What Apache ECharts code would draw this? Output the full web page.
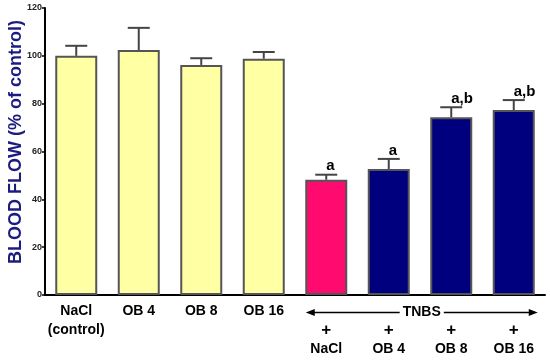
<!DOCTYPE html>
<html>
<head>
<meta charset="utf-8">
<script src="https://cdn.jsdelivr.net/npm/echarts@6/dist/echarts.min.js"></script>
<style>html,body{margin:0;padding:0;background:#fff}#c{width:550px;height:360px}</style>
</head>
<body>
<div id="c"></div>
<script>
var categories = ['NaCl\n(control)', 'OB 4', 'OB 8', 'OB 16', '\n{p|+}\nNaCl', '\n{p|+}\nOB 4', '\n{p|+}\nOB 8', '\n{p|+}\nOB 16'];
var means = [100, 102.4, 96.2, 98.8, 48.2, 52.7, 74.3, 77.3];
var errors = [4.2, 9.3, 2.8, 2.8, 2.1, 4.2, 4.2, 4.2];
var letters = ['', '', '', '', 'a', 'a', 'a,b', 'a,b'];
var groups = ['control', 'control', 'control', 'control', 'tnbsNaCl', 'tnbsOB', 'tnbsOB', 'tnbsOB'];
var yTicks = [0, 20, 40, 60, 80, 100, 120];
var groupLabel = 'TNBS';
var yTitle = 'BLOOD FLOW (% of control)';

var palette = {control: '#FFFFA4', tnbsNaCl: '#FF0A6E', tnbsOB: '#00007F'};
var FONT = '"Liberation Sans", Arial, sans-serif';

var chart = echarts.init(document.getElementById('c'), null, {renderer: 'canvas'});

var option = {
  animation: false,
  backgroundColor: '#fff',
  grid: {left: 45, right: 5, top: 8, bottom: 65, containLabel: false},
  xAxis: {
    type: 'category',
    data: categories,
    axisLine: {lineStyle: {color: '#000', width: 2}},
    axisTick: {show: false},
    axisLabel: {
      interval: 0, margin: 7,
      fontFamily: FONT, fontWeight: 'bold', fontSize: 14, lineHeight: 19, color: '#000',
      rich: {p: {fontFamily: FONT, fontWeight: 'bold', fontSize: 17, lineHeight: 19, color: '#000'}}
    }
  },
  yAxis: {
    type: 'value', min: yTicks[0], max: yTicks[yTicks.length - 1], interval: 20,
    axisLine: {show: true, lineStyle: {color: '#000', width: 2}},
    axisTick: {show: true, length: 3, lineStyle: {color: '#000', width: 1.5}},
    axisLabel: {margin: 3, fontFamily: FONT, fontWeight: 'bold', fontSize: 9, color: '#222'},
    splitLine: {show: false}
  },
  series: [
    {
      type: 'bar',
      barWidth: 42,
      data: means.map(function (v, i) {
        return {value: v, itemStyle: {color: palette[groups[i]]}};
      }),
      itemStyle: {borderColor: '#555', borderWidth: 2},
      z: 2
    },
    {
      type: 'custom',
      z: 3,
      data: means.map(function (v, i) { return [i, v, v + errors[i], letters[i]]; }),
      renderItem: function (params, api) {
        var base = api.coord([api.value(0), api.value(1)]);
        var top = api.coord([api.value(0), api.value(2)]);
        var half = 11;
        var style = {stroke: '#444', lineWidth: 2};
        var children = [
          {type: 'line', shape: {x1: base[0], y1: base[1], x2: top[0], y2: top[1]}, style: style},
          {type: 'line', shape: {x1: top[0] - half, y1: top[1], x2: top[0] + half, y2: top[1]}, style: style}
        ];
        var txt = letters[params.dataIndex];
        if (txt) {
          children.push({
            type: 'text', x: top[0], y: top[1] - 1,
            style: {text: txt, fill: '#000', font: 'bold 15px ' + FONT, align: 'left', verticalAlign: 'bottom'}
          });
        }
        return {type: 'group', children: children};
      }
    }
  ],
  graphic: [
    {
      type: 'text', x: 16, y: 142, rotation: Math.PI / 2,
      style: {text: yTitle, fill: '#1c1c80', font: 'bold 18px ' + FONT, align: 'center', verticalAlign: 'middle'}
    }
  ]
};
chart.setOption(option);

// TNBS group arrow under the axis, positioned from the category scale
var first = chart.convertToPixel({gridIndex: 0}, [4, 0]);
var last = chart.convertToPixel({gridIndex: 0}, [7, 0]);
var xL = first[0] - 20.5, xR = last[0] + 24, ay = first[1] + 17.5;
var xm = (xL + xR) / 2;
chart.setOption({
  graphic: [
    option.graphic[0],
    {type: 'line', shape: {x1: xL + 4, y1: ay, x2: xR - 4, y2: ay}, style: {stroke: '#000', lineWidth: 1.5}},
    {type: 'polygon', shape: {points: [[xL, ay], [xL + 9, ay - 3.5], [xL + 9, ay + 3.5]]}, style: {fill: '#000'}},
    {type: 'polygon', shape: {points: [[xR, ay], [xR - 9, ay - 3.5], [xR - 9, ay + 3.5]]}, style: {fill: '#000'}},
    {type: 'text', x: xm, y: ay, style: {text: groupLabel, fill: '#000', font: 'bold 14px ' + FONT, align: 'center', verticalAlign: 'middle', backgroundColor: '#fff', padding: [0, 3]}}
  ]
});
</script>
</body>
</html>
